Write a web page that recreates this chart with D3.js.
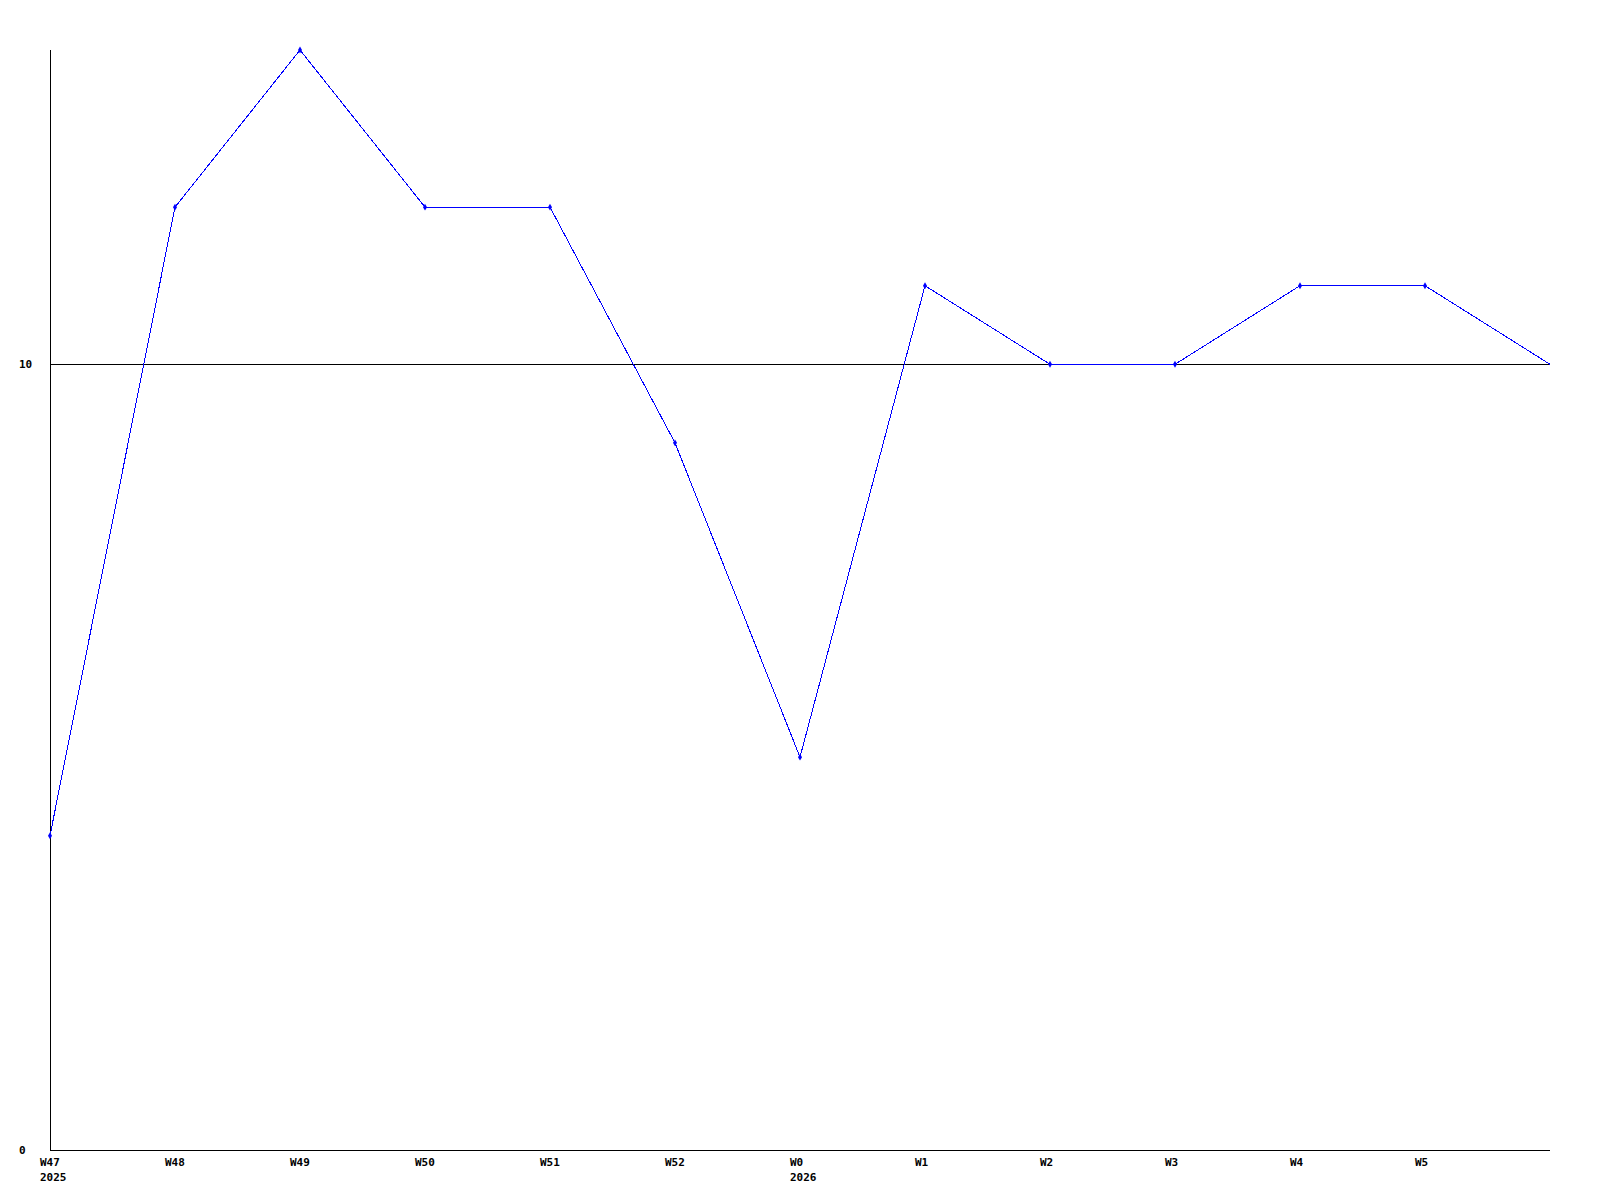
<!DOCTYPE html>
<html>
<head>
<meta charset="utf-8">
<script src="https://cdn.jsdelivr.net/npm/d3@7"></script>
<style>
  body { margin: 0; background: #fff; }
  text { font-family: "DejaVu Sans Mono", monospace; font-weight: bold; font-size: 11px; fill: #000; }
</style>
</head>
<body>
<div id="chart"></div>
<script>
// weeks (last point has no label and no marker)
const weeks = ['W47', 'W48', 'W49', 'W50', 'W51', 'W52', 'W0', 'W1', 'W2', 'W3', 'W4', 'W5', 'W6'];
const weekLabels = ['W47', 'W48', 'W49', 'W50', 'W51', 'W52', 'W0', 'W1', 'W2', 'W3', 'W4', 'W5', ''];
const yearLabels = ['2025', '', '', '', '', '', '2026', '', '', '', '', '', ''];
const values = [4, 12, 14, 12, 12, 9, 5, 11, 10, 10, 11, 11, 10];
const yTicks = [0, 10];
const refLine = 10;

class LineChart {
  constructor(_config) {
    this.config = {
      parentElement: _config.parentElement,
      containerWidth: 1600,
      containerHeight: 1200,
      margin: { top: 50, right: 50, bottom: 50, left: 50 },
    };
    this.initVis();
  }

  initVis() {
    const vis = this;
    vis.width = vis.config.containerWidth - vis.config.margin.left - vis.config.margin.right;
    vis.height = vis.config.containerHeight - vis.config.margin.top - vis.config.margin.bottom;

    vis.svg = d3.select(vis.config.parentElement).append('svg')
      .attr('width', vis.config.containerWidth)
      .attr('height', vis.config.containerHeight);

    vis.chartArea = vis.svg.append('g')
      .attr('transform', `translate(${vis.config.margin.left},${vis.config.margin.top})`);

    vis.x = d3.scalePoint().domain(weeks).range([0, vis.width]);
    vis.y = d3.scaleLinear().domain([0, 14]).range([vis.height, 0]);

    vis.renderVis();
  }

  renderVis() {
    const vis = this;

    /* y tick labels, left aligned near edge */
    vis.svg.selectAll('.ylabel')
      .data(yTicks)
      .join('text')
      .attr('class', 'ylabel')
      .attr('x', 19)
      .attr('y', (d) => vis.config.margin.top + vis.y(d) + 4)
      .text((d) => d);

    /* reference line at 10 */
    vis.chartArea.append('line')
      .attr('x1', 0).attr('x2', vis.width)
      .attr('y1', vis.y(refLine) + 0.5).attr('y2', vis.y(refLine) + 0.5)
      .attr('stroke', '#000')
      .attr('shape-rendering', 'crispEdges');

    /* axes */
    vis.chartArea.append('path')
      .attr('d', `M0.5,0V${vis.height + 0.5}H${vis.width}`)
      .attr('fill', 'none')
      .attr('stroke', '#000')
      .attr('shape-rendering', 'crispEdges');

    /* x labels */
    const xl = vis.chartArea.selectAll('.xlabel')
      .data(weeks)
      .join('g')
      .attr('class', 'xlabel')
      .attr('transform', (d) => `translate(${vis.x(d) - 10},${vis.height})`);
    xl.append('text').attr('y', 16).text((d, i) => weekLabels[i]);
    xl.append('text').attr('y', 31).text((d, i) => yearLabels[i]);

    /* line */
    const line = d3.line()
      .x((d, i) => vis.x(weeks[i]))
      .y((d) => vis.y(d));

    vis.chartArea.append('path')
      .datum(values)
      .attr('d', line)
      .attr('fill', 'none')
      .attr('stroke', '#0000ff')
      .attr('stroke-width', 1)
      .attr('shape-rendering', 'crispEdges');

    /* markers, skip the trailing point */
    vis.chartArea.selectAll('.dot')
      .data(values.slice(0, -1))
      .join('path')
      .attr('class', 'dot')
      .attr('d', d3.symbol(d3.symbolDiamond, 14))
      .attr('transform', (d, i) => `translate(${vis.x(weeks[i])},${vis.y(d)})`)
      .attr('fill', '#0000ff');
  }
}

new LineChart({ parentElement: '#chart' });
</script>
</body>
</html>
